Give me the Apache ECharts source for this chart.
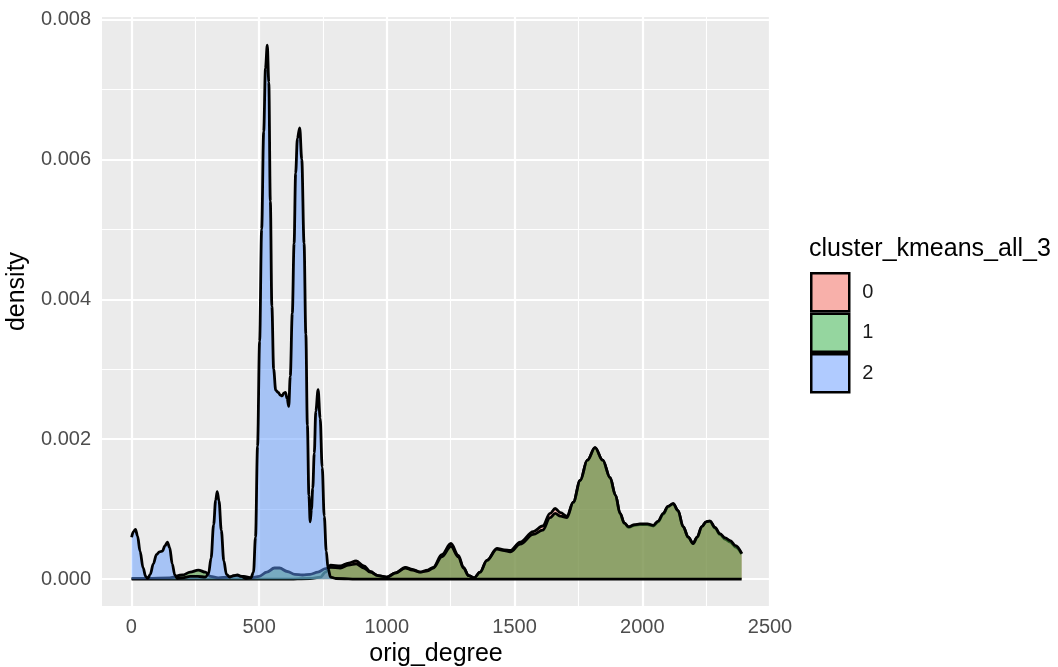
<!DOCTYPE html>
<html>
<head>
<meta charset="utf-8">
<script src="https://cdn.jsdelivr.net/npm/echarts@6/dist/echarts.min.js"></script>
<style>
  html, body { margin: 0; padding: 0; background: #ffffff; }
  #chart { width: 1058px; height: 667px; }
</style>
</head>
<body>
<div id="chart"></div>
<script>
// Kernel density of orig_degree per k-means cluster
const clusterNames = ['0', '1', '2'];
const legendTitle = 'cluster_kmeans_all_3';
const xTitle = 'orig_degree';
const yTitle = 'density';

// cluster 0
const degree0 = [1, 300, 600, 700, 740, 760, 780, 818, 850, 880, 910, 935, 965, 1000, 1035, 1072, 1100, 1131, 1160, 1182, 1215, 1251, 1280, 1300, 1320, 1342, 1365, 1392, 1431, 1460, 1483, 1522, 1573, 1610, 1639, 1659, 1680, 1705, 1730, 1757, 1785, 1815, 1845, 1874, 1895, 1913, 1930, 1946, 1970, 1991, 2020, 2043, 2062, 2082, 2100, 2121, 2140, 2160, 2180, 2199, 2215, 2233, 2250, 2265, 2285, 2304, 2325, 2344, 2365, 2389];
const density0 = [0, 0, 0, 0.00001, 0.00003, 0.0001, 0.0002, 0.00019, 0.00023, 0.00026, 0.00019, 0.00011, 0.00005, 0.00003, 0.00009, 0.00017, 0.00014, 0.0001, 0.00013, 0.00017, 0.00035, 0.00051, 0.00034, 0.00017, 0.00005, 0.00002, 0.0001, 0.00027, 0.00044, 0.00042, 0.00041, 0.00053, 0.00068, 0.00076, 0.00094, 0.00101, 0.00095, 0.0009, 0.0011, 0.00141, 0.0017, 0.00188, 0.0017, 0.00145, 0.0012, 0.00094, 0.0008, 0.00074, 0.00077, 0.00078, 0.00078, 0.00076, 0.00082, 0.00093, 0.00103, 0.00108, 0.00098, 0.00075, 0.0006, 0.00051, 0.0006, 0.00075, 0.00082, 0.00083, 0.00073, 0.00064, 0.00057, 0.00053, 0.00046, 0.00036];

// cluster 1
const degree1 = [1, 60, 150, 200, 230, 262, 290, 310, 340, 380, 410, 440, 470, 500, 530, 560, 580, 610, 640, 670, 700, 730, 760, 780, 818, 850, 880, 910, 935, 965, 1000, 1035, 1072, 1100, 1131, 1160, 1182, 1215, 1251, 1280, 1300, 1320, 1342, 1365, 1392, 1431, 1460, 1483, 1522, 1573, 1610, 1639, 1659, 1680, 1705, 1730, 1757, 1785, 1815, 1845, 1874, 1895, 1913, 1930, 1946, 1970, 1991, 2020, 2043, 2062, 2082, 2100, 2121, 2140, 2160, 2180, 2199, 2215, 2233, 2250, 2265, 2285, 2304, 2325, 2344, 2365, 2389];
const density1 = [0.00001, 0.00001, 0.00002, 0.00006, 0.0001, 0.00013, 0.0001, 0.00004, 0.00002, 0.00003, 0.00005, 0.00004, 0.00002, 0.00004, 0.0001, 0.00016, 0.00016, 0.00011, 0.00007, 0.00006, 0.00007, 0.0001, 0.00015, 0.00017, 0.00016, 0.0002, 0.00022, 0.00016, 0.0001, 0.00005, 0.00003, 0.00009, 0.00016, 0.00013, 0.0001, 0.00012, 0.00016, 0.00032, 0.00047, 0.00032, 0.00016, 0.00005, 0.00002, 0.0001, 0.00027, 0.00043, 0.00041, 0.00039, 0.0005, 0.00064, 0.0007, 0.00088, 0.00094, 0.0009, 0.00088, 0.0011, 0.00141, 0.0017, 0.00188, 0.0017, 0.00145, 0.0012, 0.00094, 0.0008, 0.00075, 0.00078, 0.00079, 0.00079, 0.00077, 0.00083, 0.00094, 0.00104, 0.00108, 0.00098, 0.00075, 0.0006, 0.00051, 0.0006, 0.00075, 0.00082, 0.00083, 0.00074, 0.00065, 0.00059, 0.00055, 0.00048, 0.00037];

// cluster 2
const degree2 = [1, 8, 16, 24, 34, 46, 56, 64, 74, 86, 98, 110, 121, 132, 141, 150, 160, 170, 180, 200, 230, 260, 290, 302, 312, 322, 330, 336, 343, 352, 362, 372, 385, 400, 415, 430, 450, 468, 478, 486, 494, 502, 510, 518, 525, 532, 538, 544, 550, 557, 565, 575, 583, 590, 597, 603, 610, 616, 622, 630, 637, 643, 650, 659, 667, 676, 683, 689, 695, 700, 705, 710, 716, 722, 731, 739, 747, 755, 763, 770, 780, 800, 900, 2389];
const density2 = [0.0006, 0.00068, 0.00071, 0.00062, 0.0004, 0.00016, 0.00004, 0.00001, 0.00007, 0.00022, 0.00035, 0.00039, 0.0004, 0.00048, 0.00053, 0.00045, 0.00022, 0.00006, 0.00001, 0.00002, 0.00004, 0.00004, 0.00003, 0.00008, 0.0003, 0.00078, 0.00113, 0.00125, 0.00112, 0.0007, 0.00026, 0.00007, 0.00003, 0.00005, 0.00006, 0.00004, 0.00001, 0.00002, 0.0001, 0.0006, 0.0019, 0.0034, 0.005, 0.0064, 0.0073, 0.00763, 0.0071, 0.0054, 0.0039, 0.003, 0.0027, 0.00267, 0.00263, 0.00262, 0.00266, 0.00267, 0.00258, 0.00247, 0.0029, 0.0038, 0.0048, 0.0058, 0.0063, 0.00645, 0.006, 0.0048, 0.0035, 0.0022, 0.0012, 0.00082, 0.001, 0.0013, 0.0018, 0.0024, 0.00271, 0.0023, 0.0016, 0.0009, 0.0004, 0.00015, 0.00003, 0.00001, 0, 0];

// axis breaks
const xTicks = [0, 500, 1000, 1500, 2000, 2500];
const xMinor = [250, 750, 1250, 1750, 2250];
const yTicks = [0, 0.002, 0.004, 0.006, 0.008];
const yMinor = [0.001, 0.003, 0.005, 0.007];

// panel limits (data range padded by 5%)
const xMin = -115, xMax = 2500;
const yMin = -0.000383, yMax = 0.008033;

const degrees = [degree0, degree1, degree2];
const densities = [density0, density1, density2];

const areaFills = ['rgba(248,118,109,0.5)', 'rgba(77,154,62,0.6)', 'rgba(97,156,255,0.5)'];
const keyFills = ['#F8B0AA', '#95D69F', '#B0CBFF'];
const font = '"Liberation Sans", Arial, Helvetica, sans-serif';

const chart = echarts.init(document.getElementById('chart'), null, { renderer: 'canvas' });

const hLine = (v, w) => [{ coord: [xMin, v], lineStyle: { width: w } }, { coord: [xMax, v] }];
const vLine = (v, w) => [{ coord: [v, yMin], lineStyle: { width: w } }, { coord: [v, yMax] }];
const gridLines = []
  .concat(yMinor.map(v => hLine(v, 1.1)))
  .concat(xMinor.map(v => vLine(v, 1.1)))
  .concat(yTicks.map(v => hLine(v, 2.2)))
  .concat(xTicks.map(v => vLine(v, 2.2)));

const densitySeries = clusterNames.map((name, i) => ({
  name: name,
  type: 'line',
  data: degrees[i].map((x, k) => [x, densities[i][k]]),
  symbol: 'none',
  showSymbol: false,
  smooth: 0.35,
  smoothMonotone: 'x',
  silent: true,
  z: 3 + i,
  itemStyle: { color: keyFills[i] },
  lineStyle: { color: '#000000', width: 2.8 },
  areaStyle: { color: areaFills[i], opacity: 1 }
}));

chart.setOption({
  animation: false,
  backgroundColor: '#ffffff',
  textStyle: { fontFamily: font },
  title: {
    text: legendTitle,
    left: 809,
    top: 237,
    padding: 0,
    textStyle: { fontFamily: font, fontSize: 25, fontWeight: 'normal', color: '#000000' }
  },
  legend: {
    orient: 'vertical',
    left: 810,
    top: 272,
    padding: 0,
    itemWidth: 38,
    itemHeight: 38,
    itemGap: 0,
    icon: 'rect',
    selectedMode: false,
    itemStyle: { borderColor: '#000000', borderWidth: 2.5 },
    textStyle: { fontFamily: font, fontSize: 20, color: '#1a1a1a', padding: [0, 0, 0, 8] },
    data: clusterNames.map((n, i) => ({ name: n, itemStyle: { color: keyFills[i] } }))
  },
  grid: {
    left: 102,
    right: 288,
    top: 17,
    bottom: 61,
    outerBoundsMode: 'none',
    show: true,
    backgroundColor: '#EBEBEB',
    borderWidth: 0
  },
  xAxis: {
    type: 'value',
    min: xMin,
    max: xMax,
    name: xTitle,
    nameLocation: 'middle',
    nameGap: 35,
    nameTextStyle: { fontFamily: font, fontSize: 25, color: '#000000' },
    axisLine: { show: false },
    splitLine: { show: false },
    axisTick: { show: true, customValues: xTicks, length: 6, lineStyle: { color: '#333333', width: 1.6 } },
    axisLabel: {
      customValues: xTicks,
      margin: 11,
      fontFamily: font,
      fontSize: 20,
      color: '#4D4D4D',
      showMaxLabel: true,
      formatter: v => String(v)
    }
  },
  yAxis: {
    type: 'value',
    min: yMin,
    max: yMax,
    name: yTitle,
    nameLocation: 'middle',
    nameRotate: 90,
    nameGap: 67,
    nameTextStyle: { fontFamily: font, fontSize: 25, color: '#000000', padding: [0, 0, 0, 40] },
    axisLine: { show: false },
    splitLine: { show: false },
    axisTick: { show: true, customValues: yTicks, length: 6, lineStyle: { color: '#333333', width: 1.6 } },
    axisLabel: {
      customValues: yTicks,
      margin: 11,
      fontFamily: font,
      fontSize: 20,
      color: '#4D4D4D',
      formatter: v => v.toFixed(3)
    }
  },
  series: [
    {
      name: 'gridlines',
      type: 'line',
      data: [],
      silent: true,
      z: 1,
      markLine: {
        silent: true,
        z: 1,
        symbol: ['none', 'none'],
        label: { show: false },
        emphasis: { disabled: true },
        lineStyle: { color: '#ffffff', type: 'solid' },
        data: gridLines
      }
    }
  ].concat(densitySeries)
});
</script>
</body>
</html>
